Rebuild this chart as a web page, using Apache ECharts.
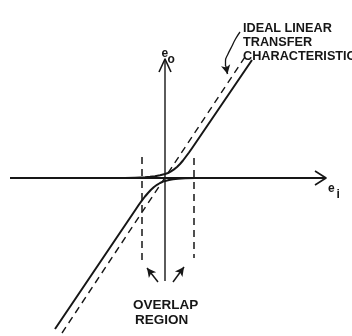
<!DOCTYPE html>
<html>
<head>
<meta charset="utf-8">
<script src="https://cdn.jsdelivr.net/npm/echarts@6/dist/echarts.min.js"></script>
<style>
  html, body { margin: 0; padding: 0; background: #fff; }
  #graph1 { width: 352px; height: 336px; }
</style>
</head>
<body>
<div id="graph1"></div>
<script>
// units: e_i / e_o offsets from the origin of the sketch
var xAxisLine = [[-155, 0], [161, 0]];
var xArrowHead = [[150, 7], [161, 0], [150, -7]];
var yAxisLine = [[0, -103], [0, 119]];
var yArrowHead = [[-6, 106], [0, 119], [6, 106]];

var idealLine = [[-103, -155], [80, 121]];
var upperCurve = [[-40, 0], [-30, 0.3], [-20, 0.8], [-15, 1.2], [-10, 1.8], [-5, 2.8], [0, 4], [3, 5], [6, 6.6], [9, 8.6],
  [12, 11], [15, 14], [18, 17.5], [21, 21.5], [24, 25.5], [27, 29.8], [87, 118]];
var lowerCurve = [[-110, -151], [-29, -31], [-26, -26.5], [-23, -22.3], [-20, -18.5], [-17, -15], [-14, -11.8], [-11, -9],
  [-8, -6.8], [-5, -5], [-2, -3.6], [0, -3], [4, -2], [8, -1.3], [13, -0.7], [20, -0.3], [30, 0]];

var overlapLeft = [[-23, 21], [-23, -83]];
var overlapRight = [[29, 20], [29, -80]];

var pointerArrows = [
  [[-7, -104], [-18, -90]],
  [[8, -104], [19, -89]]
];
// curved leader from the label down to the ideal line
var labelCurve = [[75, 146], [70.5, 139], [66.5, 131], [63, 124], [60.5, 117], [60.5, 112]];
var labelTip = [[60.8, 112], [62.5, 104]];

var ink = '#161616';

var chart = echarts.init(document.getElementById('graph1'));

function plainLine(data, width, dashed) {
  return {
    type: 'line',
    data: data,
    symbol: 'none',
    silent: true,
    lineStyle: {
      color: ink,
      width: width,
      type: dashed ? [7, 5] : 'solid',
      join: 'round'
    }
  };
}

var arrowSeries = {
  type: 'line',
  data: [],
  markLine: {
    silent: true,
    animation: false,
    symbol: ['none', 'arrow'],
    symbolSize: [7, 9],
    label: { show: false },
    lineStyle: { color: ink, width: 1.5, type: 'solid' },
    data: [
      [{ coord: pointerArrows[0][0] }, { coord: pointerArrows[0][1] }],
      [{ coord: pointerArrows[1][0] }, { coord: pointerArrows[1][1] }],
      [{ coord: labelTip[0] }, { coord: labelTip[1] }]
    ]
  }
};

var leader = plainLine(labelCurve, 1.3);
leader.smooth = 0.5;

var textFont = 'bold 12.7px "Liberation Sans", Arial, sans-serif';
var subFont = 'bold 12px "Liberation Sans", Arial, sans-serif';
var bigFont = 'bold 13.5px "Liberation Sans", Arial, sans-serif';

function txt(s, x, y, font) {
  return {
    type: 'text',
    silent: true,
    style: { text: s, x: x, y: y, font: font, fill: ink, textBaseline: 'alphabetic' }
  };
}

var option = {
  animation: false,
  backgroundColor: '#fff',
  grid: { left: 0, right: 0, top: 0, bottom: 0 },
  xAxis: { type: 'value', min: -165, max: 187, show: false },
  yAxis: { type: 'value', min: -158, max: 178, show: false },
  series: [
    plainLine(xAxisLine, 2),
    plainLine(xArrowHead, 1.6),
    plainLine(yAxisLine, 1.4),
    plainLine(yArrowHead, 1.6),
    plainLine(idealLine, 1.4, true),
    plainLine(overlapLeft, 1.5, true),
    plainLine(overlapRight, 1.5, true),
    plainLine(upperCurve, 2),
    plainLine(lowerCurve, 2),
    leader,
    arrowSeries
  ],
  graphic: [
    txt('IDEAL LINEAR', 243, 21.7, textFont),
    txt('TRANSFER', 243, 35.7, textFont),
    txt('CHARACTERISTIC', 243, 49.5, textFont),
    txt('e', 161.5, 47.5, subFont),
    txt('o', 167.5, 53.5, subFont),
    txt('e', 328, 183, subFont),
    txt('i', 336.5, 189, subFont),
    txt('OVERLAP', 133, 298.5, bigFont),
    txt('REGION', 135, 313.5, bigFont)
  ]
};

chart.setOption(option);
</script>
</body>
</html>
